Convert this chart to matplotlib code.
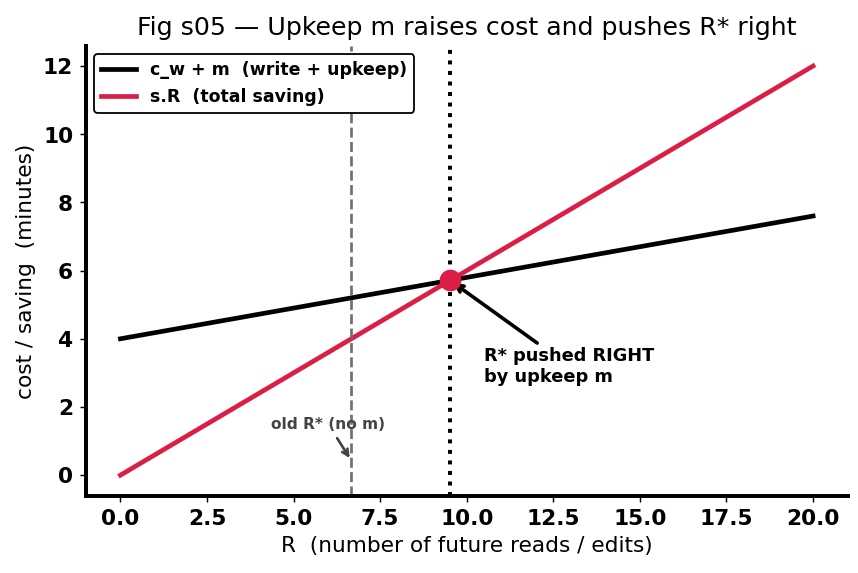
import matplotlib
matplotlib.use("Agg")
import matplotlib.pyplot as plt

# values
R = [0, 20]
cost = [4.0, 7.6]      # c_w + m
saving = [0.0, 12.0]   # s.R
r_star = 9.52
y_star = 5.71
r_old = 6.67

red = "#dc1e46"

fig, ax = plt.subplots(figsize=(6.6, 4.41), dpi=130)

ax.plot(R, cost, color="black", lw=2.6, label="c_w + m  (write + upkeep)")
ax.plot(R, saving, color=red, lw=2.6, label="s.R  (total saving)")

ax.axvline(r_old, color="#707070", ls="--", lw=1.5)
ax.axvline(r_star, color="black", ls=":", lw=2.2)
ax.plot([r_star], [y_star], "o", color=red, ms=11, zorder=5)

ax.annotate("R* pushed RIGHT\nby upkeep m", xy=(r_star, y_star), xytext=(10.5, 3.2),
            fontsize=9.8, fontweight="bold", ha="left", va="center",
            arrowprops=dict(arrowstyle="->", color="black", lw=2, shrinkA=0, shrinkB=2))
ax.annotate("old R* (no m)", xy=(r_old - 0.05, 0.5), xytext=(6.0, 1.5),
            fontsize=8.5, fontweight="bold", color="#444444", ha="center", va="center",
            arrowprops=dict(arrowstyle="->", color="#444444", lw=1.5, shrinkA=2, shrinkB=0))

ax.set_title("Fig s05 \u2014 Upkeep m raises cost and pushes R* right", fontsize=14)
ax.set_xlabel("R  (number of future reads / edits)", fontsize=12)
ax.set_ylabel("cost / saving  (minutes)", fontsize=12)

ax.spines["top"].set_visible(False)
ax.spines["right"].set_visible(False)
ax.spines["left"].set_linewidth(2.2)
ax.spines["bottom"].set_linewidth(2.2)
ax.tick_params(labelsize=12)
for lab in ax.get_xticklabels() + ax.get_yticklabels():
    lab.set_fontweight("bold")

leg = ax.legend(loc="upper left", prop={"weight": "bold", "size": 9.6}, framealpha=1)
leg.get_frame().set_edgecolor("black")

fig.subplots_adjust(left=0.1, right=0.988, bottom=0.135, top=0.92)
fig.savefig("out.png", dpi=130)
